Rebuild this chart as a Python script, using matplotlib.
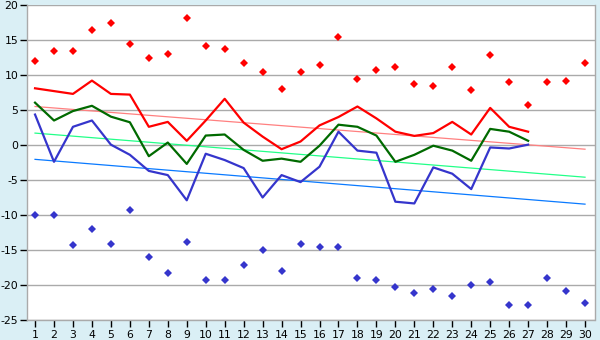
import matplotlib.pyplot as plt
import numpy as np

days = np.arange(1, 31)

# daily extremes (scatter)
high_max = [12.0, 13.4, 13.5, 16.4, 17.5, 14.4, 12.4, 13.0, 18.1, 14.1,
            13.7, 11.7, 10.5, 7.95, 10.5, 11.5, 15.5, 9.4, 10.7, 11.1,
            8.7, 8.5, 11.1, 7.8, 12.8, 8.95, 5.7, 8.95, 9.1, 11.7]
low_min = [-10.0, -10.0, -14.3, -12.05, -14.2, -9.3, -16.05, -18.3, -13.8, -19.3,
           -19.3, -17.2, -15.05, -18.05, -14.2, -14.6, -14.5, -19.05, -19.3, -20.3,
           -21.2, -20.6, -21.6, -20.05, -19.5, -22.8, -22.8, -19.05, -20.9, -22.5]

# daily lines, days 1..27
line_high = [8.1, 7.7, 7.3, 9.2, 7.3, 7.2, 2.6, 3.3, 0.6, 3.5,
             6.6, 3.2, 1.2, -0.6, 0.5, 2.8, 4.0, 5.5, 3.8, 1.9,
             1.3, 1.7, 3.3, 1.5, 5.3, 2.6, 1.9]
line_mid = [6.05, 3.5, 4.85, 5.6, 4.05, 3.25, -1.6, 0.35, -2.7, 1.35,
            1.5, -0.7, -2.25, -1.95, -2.4, -0.1, 2.9, 2.6, 1.35, -2.4,
            -1.4, -0.1, -0.8, -2.25, 2.3, 1.9, 0.6]
line_low = [4.35, -2.4, 2.6, 3.5, 0.05, -1.4, -3.7, -4.3, -7.9, -1.25,
            -2.15, -3.3, -7.5, -4.3, -5.3, -3.1, 1.9, -0.8, -1.1, -8.1,
            -8.35, -3.2, -4.1, -6.3, -0.35, -0.5, 0.05]

# trend lines: value at day 1 and day 30
trend_days = [1, 30]
trend_high = [5.5, -0.6]
trend_mid = [1.7, -4.6]
trend_low = [-2.05, -8.45]

bg = '#daeff5'
grid_c = '#aaaaaa'

plt.rcParams['axes.unicode_minus'] = False

fig = plt.figure(figsize=(6, 3.4), dpi=100, facecolor=bg)
ax = fig.add_axes([26.5 / 600, 20 / 340, 568 / 600, 315 / 340])
ax.set_facecolor('white')

ax.plot(trend_days, trend_high, color='#ff8080', lw=0.9, zorder=2)
ax.plot(trend_days, trend_mid, color='#22ff88', lw=0.9, zorder=2)
ax.plot(trend_days, trend_low, color='#0a7aff', lw=0.9, zorder=2)

n = len(line_high)
ax.plot(days[:n], line_high, color='#ff0000', lw=1.6, zorder=3)
ax.plot(days[:n], line_mid, color='#006a00', lw=1.6, zorder=3)
ax.plot(days[:n], line_low, color='#3535cc', lw=1.6, zorder=3)

ax.plot(days, high_max, ls='none', marker='D', ms=3.8, mew=0,
        color='#ff0000', zorder=4)
ax.plot(days, low_min, ls='none', marker='D', ms=3.8, mew=0,
        color='#3535cc', zorder=4)

ax.set_xlim(0.55, 30.5)
ax.set_ylim(-25, 20)
ax.set_xticks(days)
ax.set_yticks(np.arange(-25, 21, 5))
ax.yaxis.grid(True, color=grid_c, lw=1.0)
ax.set_axisbelow(True)

for side in ['left', 'bottom', 'right', 'top']:
    ax.spines[side].set_color(grid_c)
    ax.spines[side].set_linewidth(1.0)
ax.spines['top'].set_visible(False)

ax.tick_params(axis='both', colors='black', labelsize=7.8, length=5,
               width=1, direction='out')
ax.tick_params(axis='x', pad=2)
ax.tick_params(axis='y', pad=1)

fig.savefig('out.png', dpi=100, facecolor=bg)
